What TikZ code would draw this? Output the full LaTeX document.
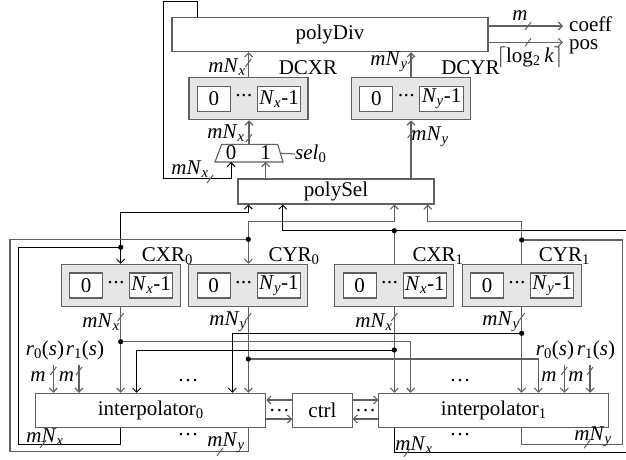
\documentclass[tikz,border=0pt]{standalone}
\usepackage{fontspec}
\setmainfont{Liberation Serif}
\usetikzlibrary{arrows.meta,positioning,calc}
\definecolor{wiregray}{RGB}{96,96,96}
\definecolor{regfill}{RGB}{230,230,230}
\newcommand{\mNx}{\textit{mN}\textsubscript{\textit{x}}}
\newcommand{\mNy}{\textit{mN}\textsubscript{\textit{y}}}
\newcommand{\Nx}{\textit{N}\textsubscript{\textit{x}}-1}
\newcommand{\Ny}{\textit{N}\textsubscript{\textit{y}}-1}
\newcommand{\cellgap}{·\kern-1.2pt·\kern-1.2pt·}

\begin{document}
\begin{tikzpicture}[x=1pt,y=-1pt,
    font=\fontsize{21}{25}\selectfont,
    box/.style={draw=wiregray,line width=1.1pt,inner sep=0pt,fill=white},
    reg/.style={draw=wiregray,line width=1.1pt,fill=regfill,
      minimum width=119pt,minimum height=42.4pt,inner sep=0pt},
    cell/.style={draw=wiregray,line width=1.1pt,fill=white,minimum height=25pt,inner sep=0pt},
    wire/.style={wiregray,line width=1.1pt},
    ctl/.style={black,line width=0.9pt},
    arr/.style={-{Straight Barb[length=4pt,width=8pt]}},
    lbl/.style={inner sep=0pt},
    busmark/.pic={\draw[wiregray,line width=1pt] (-3,4) -- (3,-4);}
  ]
    \useasboundingbox (0,0) rectangle (626,460);
    \clip (0,0) rectangle (626,460);

    % divider and its registers
    \node[box,minimum width=316pt,minimum height=34.4pt] (pdiv) at (330,34.5) {polyDiv};
    \node[reg] (dcx) at (248.5,98.7) {};
    \node[cell,minimum width=33pt,right=8.3pt of dcx.west] (dcx0) {0};
    \node[cell,minimum width=43.4pt,left=7.3pt of dcx.east] (dcxn) {\Nx};
    \node (dcxd) at ($(dcx0.east)!0.5!(dcxn.west)$) {\cellgap};
    \node[lbl,anchor=base west] (dcxl) at ($(dcx.north east)+(-30,-2)$) {DCXR};
    \node[reg] (dcy) at (411,98.7) {};
    \node[cell,minimum width=33pt,right=8.3pt of dcy.west] (dcy0) {0};
    \node[cell,minimum width=43.4pt,left=7.3pt of dcy.east] (dcyn) {\Ny};
    \node (dcyd) at ($(dcy0.east)!0.5!(dcyn.west)$) {\cellgap};
    \node[lbl,anchor=base west] (dcyl) at ($(dcy.north east)+(-30,-2)$) {DCYR};

    % outputs
    \node[lbl,anchor=base west] (coeff) at (569,31.5) {coeff};
    \node[lbl,anchor=base west] (pos) at (569,49) {pos};
    \coordinate (oc) at (563,26);
    \coordinate (op) at (563,42.3);
    \draw[wire,arr] (pdiv.east |- oc) -- (oc);
    \draw[wire,arr] (pdiv.east |- op) -- (op);
    \node[lbl] (mco) at (520,16) {\textit{m}};
    \node[lbl] (mpos) at (530,57) {$\lceil$log\textsubscript{2}\,\textit{k}$\rceil$};
    \pic at (528,26) {busmark};
    \pic at (528,42.3) {busmark};

    % selector and mux
    \draw[wire,fill=white] (215,162) -- (221.7,144.3) -- (277.7,144.3) -- (283,162) -- cycle;
    \coordinate (muxn) at (249,144.3);
    \coordinate (muxs) at (249,162);
    \coordinate (muxe) at (280.4,153.2);
    \node[lbl] (mux0) at (231,153) {0};
    \node[lbl] (mux1) at (265.7,153) {1};
    \node[lbl,anchor=west] (sel) at (295,154) {\textit{sel}\textsubscript{0}};
    \draw[wire] (muxe) -- (sel.west);
    \node[box,minimum width=196pt,minimum height=25pt] (psel) at (336,191.5) {polySel};

    \draw[wire,arr] (dcx.north) -- (dcx.north |- pdiv.south);
    \draw[wire,arr] (dcy.north) -- (dcy.north |- pdiv.south);
    \draw[wire,arr] (muxn) -- (muxn |- dcx.south);
    \draw[wire,arr] (mux1 |- psel.north) -- (mux1 |- muxs);
    \draw[wire,arr] (psel.north -| dcy.south) -- (dcy.south);
    \coordinate (tk) at (197.7,1);
    \coordinate (tl) at (163,1);
    \draw[ctl,arr] (tk |- pdiv.north) -- (tk) -- (tl) -- (tl |- psel.north)
      -- (mux0 |- psel.north) -- (mux0 |- muxs);
    \node[lbl] (lt1) at (227,67) {\mNx};
    \node[lbl] (lt2) at (389,62) {\mNy};
    \node[lbl] (lt3) at (226,133) {\mNx};
    \node[lbl] (lt4) at (430,137) {\mNy};
    \node[lbl] (lt5) at (190,169) {\mNx};
    \pic at (248.3,63) {busmark};
    \pic at (411,60) {busmark};
    \pic at (249,138) {busmark};
    \pic at (410.7,134) {busmark};
    \pic at (210,179) {busmark};

    % coefficient registers
    \node[reg] (cx0) at (120.7,285.5) {};
    \node[cell,minimum width=33pt,right=8.3pt of cx0.west] (cx00) {0};
    \node[cell,minimum width=43.4pt,left=7.3pt of cx0.east] (cx0n) {\Nx};
    \node (cx0d) at ($(cx00.east)!0.5!(cx0n.west)$) {\cellgap};
    \node[lbl,anchor=base west] (cx0l) at ($(cx0.north east)+(-39,-2.5)$) {CXR\textsubscript{0}};
    \node[reg] (cy0) at (248.3,285.5) {};
    \node[cell,minimum width=33pt,right=8.3pt of cy0.west] (cy00) {0};
    \node[cell,minimum width=43.4pt,left=7.3pt of cy0.east] (cy0n) {\Ny};
    \node (cy0d) at ($(cy00.east)!0.5!(cy0n.west)$) {\cellgap};
    \node[lbl,anchor=base west] (cy0l) at ($(cy0.north east)+(-40,-2.5)$) {CYR\textsubscript{0}};
    \node[reg] (cx1) at (394.3,285.5) {};
    \node[cell,minimum width=33pt,right=8.3pt of cx1.west] (cx10) {0};
    \node[cell,minimum width=43.4pt,left=7.3pt of cx1.east] (cx1n) {\Nx};
    \node (cx1d) at ($(cx10.east)!0.5!(cx1n.west)$) {\cellgap};
    \node[lbl,anchor=base west] (cx1l) at ($(cx1.north east)+(-42,-2.5)$) {CXR\textsubscript{1}};
    \node[reg] (cy1) at (521.7,285.5) {};
    \node[cell,minimum width=33pt,right=8.3pt of cy1.west] (cy10) {0};
    \node[cell,minimum width=43.4pt,left=7.3pt of cy1.east] (cy1n) {\Ny};
    \node (cy1d) at ($(cy10.east)!0.5!(cy1n.west)$) {\cellgap};
    \node[lbl,anchor=base west] (cy1l) at ($(cy1.north east)+(-43,-2.5)$) {CYR\textsubscript{1}};

    % interpolators and control
    \node[box,minimum width=230pt,minimum height=34pt] (ip0) at (150.7,410.3) {interpolator\textsubscript{0}};
    \node[box,minimum width=59.3pt,minimum height=34pt,right=26pt of ip0] (ctrl) {ctrl};
    \node[box,minimum width=230pt,minimum height=34pt,right=25.7pt of ctrl] (ip1) {interpolator\textsubscript{1}};
    \draw[wire,arr] ($(ctrl.west)+(0,-10.3)$) -- ($(ip0.east)+(0,-10.3)$);
    \draw[wire,arr] ($(ip0.east)+(0,8.7)$) -- ($(ctrl.west)+(0,8.7)$);
    \draw[wire,arr] ($(ctrl.east)+(0,-10.3)$) -- ($(ip1.west)+(0,-10.3)$);
    \draw[wire,arr] ($(ip1.west)+(0,8.7)$) -- ($(ctrl.east)+(0,8.7)$);
    \node (cd0) at ($(ip0.east)!0.5!(ctrl.west)$) {\dots};
    \node (cd1) at ($(ctrl.east)!0.5!(ip1.west)$) {\dots};
    \node (ip0t) at (188,381) {\dots};
    \node (ip0b) at (188,435) {\dots};
    \node (ip1t) at (460,381) {\dots};
    \node (ip1b) at (460,435) {\dots};

    % external inputs
    \node[lbl] (r00) at (45,350) {\textit{r}\textsubscript{0}(\textit{s})};
    \node[lbl] (r01) at (85,350) {\textit{r}\textsubscript{1}(\textit{s})};
    \node[lbl] (r10) at (555,350) {\textit{r}\textsubscript{0}(\textit{s})};
    \node[lbl] (r11) at (596,350) {\textit{r}\textsubscript{1}(\textit{s})};
    \coordinate (ra0) at (53.3,365);
    \coordinate (ra1) at (79,365);
    \coordinate (rb0) at (564.3,365);
    \coordinate (rb1) at (590,365);
    \draw[wire,arr] (ra0) -- (ra0 |- ip0.north);
    \draw[wire,arr] (ra1) -- (ra1 |- ip0.north);
    \draw[wire,arr] (rb0) -- (rb0 |- ip1.north);
    \draw[wire,arr] (rb1) -- (rb1 |- ip1.north);
    \node[lbl] (m00) at (38,377) {\textit{m}};
    \node[lbl] (m01) at (66.5,377) {\textit{m}};
    \node[lbl] (m10) at (549,377) {\textit{m}};
    \node[lbl] (m11) at (576,377) {\textit{m}};
    \pic at (53.3,371) {busmark};
    \pic at (79,371) {busmark};
    \pic at (564.3,371) {busmark};
    \pic at (590,371) {busmark};

    % register outputs to both interpolators
    \coordinate (ox0) at (120.7,341.7);
    \coordinate (ox1) at (394.3,350);
    \coordinate (oy1) at (521.7,333.3);
    \coordinate (oy0) at (248.3,359);
    \coordinate (mi1) at (410.7,341.7);
    \coordinate (mi2) at (136.7,350);
    \coordinate (mi3) at (232.3,333.3);
    \coordinate (mi4) at (538.3,359);
    \draw[wire,arr] (cx0.south) -- (cx0.south |- ip0.north);
    \draw[wire,arr] (cy0.south) -- (cy0.south |- ip0.north);
    \draw[wire,arr] (cx1.south) -- (cx1.south |- ip1.north);
    \draw[wire,arr] (cy1.south) -- (cy1.south |- ip1.north);
    \draw[wire,arr] (ox0) -- (mi1) -- (mi1 |- ip1.north);
    \draw[ctl,arr] (ox1) -- (mi2) -- (mi2 |- ip0.north);
    \draw[ctl,arr] (oy1) -- (mi3) -- (mi3 |- ip0.north);
    \draw[wire,arr] (oy0) -- (mi4) -- (mi4 |- ip1.north);
    \node[lbl] (lb1) at (101,322) {\mNx};
    \node[lbl] (lb2) at (228,322) {\mNy};
    \node[lbl] (lb3) at (374,322) {\mNx};
    \node[lbl] (lb4) at (501,322) {\mNy};
    \pic at (120.7,317) {busmark};
    \pic at (248.3,317) {busmark};
    \pic at (394.3,317) {busmark};
    \pic at (521.7,317) {busmark};

    % feedback from interpolators to registers and selector
    \coordinate (jx0) at (120.7,247.3);
    \coordinate (jy0) at (248.3,239.3);
    \coordinate (jx1) at (394.3,230.7);
    \coordinate (jy1) at (521.7,240);
    \coordinate (lp1) at (18.3,444);
    \coordinate (lp2) at (10,451.7);
    \coordinate (rp3) at (622.7,444.3);
    \coordinate (rp4) at (640,452.7);
    \coordinate (ps0) at (248.3,212);
    \coordinate (ps1) at (282.7,230.7);
    \coordinate (ps2) at (394.3,221.7);
    \coordinate (ps3) at (427.7,221.7);
    \draw[ctl] (ip0.south -| jx0) -- (jx0 |- lp1) -- (lp1) -- (lp1 |- jx0) -- (jx0);
    \draw[ctl,arr] (jx0) -- (cx0.north);
    \draw[ctl,arr] (jx0) -- (jx0 |- ps0) -- (ps0) -- (ps0 |- psel.south);
    \draw[wire] (ip0.south -| jy0) -- (jy0 |- lp2) -- (lp2) -- (lp2 |- jy0) -- (jy0);
    \draw[wire,arr] (jy0) -- (cy0.north);
    \draw[wire,arr] (jy0) -- (jy0 |- ps2) -- (ps2) -- (ps2 |- psel.south);
    \draw[wire] (ip1.south -| jy1) -- (jy1 |- rp3) -- (rp3) -- (rp3 |- jy1) -- (jy1);
    \draw[wire] (jy1) -- (cy1.north);
    \draw[wire,arr] (jy1) -- (jy1 |- ps3) -- (ps3) -- (ps3 |- psel.south);
    \draw[ctl] (ip1.south -| jx1) -- (jx1 |- rp4) -- (rp4) -- (rp4 |- jx1) -- (jx1);
    \draw[wire] (jx1) -- (cx1.north);
    \draw[ctl,arr] (jx1) -- (ps1) -- (ps1 |- psel.south);
    \node[lbl] (lf1) at (45,437) {\mNx};
    \node[lbl] (lf2) at (226,443) {\mNy};
    \node[lbl] (lf3) at (593,437) {\mNy};
    \node[lbl] (lf4) at (414,445) {\mNx};
    \pic at (43,444) {busmark};
    \pic at (220,451.7) {busmark};
    \pic at (587,444.3) {busmark};
    \pic at (407,452.7) {busmark};

    \fill (jx0) circle (2.6);
    \fill (jy0) circle (2.6);
    \fill (jx1) circle (2.6);
    \fill (jy1) circle (2.6);
    \fill (ox0) circle (2.6);
    \fill (ox1) circle (2.6);
    \fill (oy1) circle (2.6);
    \fill (oy0) circle (2.6);
\end{tikzpicture}
\end{document}
